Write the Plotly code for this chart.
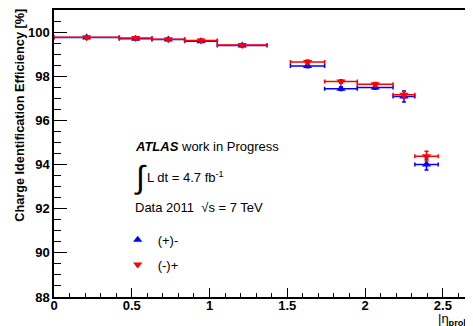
import plotly.graph_objects as go

# |eta| bin edges
eta_lo = [0.0, 0.42, 0.63, 0.84, 1.05, 1.52, 1.74, 1.95, 2.18, 2.32]
eta_hi = [0.42, 0.63, 0.84, 1.05, 1.37, 1.74, 1.95, 2.18, 2.32, 2.47]

# charge identification efficiency [%]
eff_pm = [99.75, 99.70, 99.66, 99.59, 99.39, 98.46, 97.43, 97.49, 97.08, 94.00]
err_pm = [0.04, 0.04, 0.04, 0.05, 0.05, 0.08, 0.08, 0.08, 0.25, 0.25]
eff_mp = [99.77, 99.73, 99.68, 99.62, 99.41, 98.65, 97.76, 97.64, 97.16, 94.38]
err_mp = [0.04, 0.04, 0.04, 0.05, 0.05, 0.08, 0.08, 0.08, 0.15, 0.22]

eta_c = [(a + b) / 2 for a, b in zip(eta_lo, eta_hi)]
eta_w = [(b - a) / 2 for a, b in zip(eta_lo, eta_hi)]

FONT = "Liberation Sans, Arial, Helvetica, sans-serif"

fig = go.Figure()


def add_series(name, eff, err, color, symbol, group):
    fig.add_trace(go.Scatter(
        x=eta_c, y=eff, mode='markers', name=name, legendgroup=group,
        marker=dict(color=color, symbol=symbol, size=8),
        error_x=dict(type='data', array=eta_w, color=color, thickness=1.5, width=2),
        error_y=dict(type='data', array=err, color=color, thickness=1.5, width=2),
    ))


add_series('(+)-', eff_pm, err_pm, 'rgb(0,0,255)', 'triangle-up', 'a')
add_series('(-)+', eff_mp, err_mp, 'rgb(255,0,0)', 'triangle-down', 'b')

# page body has an 8px margin, so the figure is shrunk by that much
fig.update_layout(
    width=465, height=318,
    margin=dict(l=46, r=0, t=2, b=29),
    plot_bgcolor='white', paper_bgcolor='white',
    font=dict(family=FONT, color='black', size=13),
    showlegend=True,
    legend=dict(x=0.152, y=0.252, xanchor='left', yanchor='top',
                bgcolor='rgba(0,0,0,0)', tracegroupgap=5, itemwidth=30,
                font=dict(size=13, family=FONT)),
    xaxis=dict(range=[0, 2.694], showgrid=False, zeroline=False,
               showline=True, linecolor='black', linewidth=1.5, mirror=True,
               ticks='inside', ticklen=9, tickwidth=1.2, tickcolor='black',
               dtick=0.5, tick0=0, ticklabelstandoff=-4,
               minor=dict(ticks='inside', ticklen=4.5, dtick=0.1, tickcolor='black', tickwidth=1),
               tickfont=dict(size=13, family=FONT, weight='bold')),
    yaxis=dict(range=[88, 101], showgrid=False, zeroline=False,
               showline=True, linecolor='black', linewidth=1.5,
               ticks='inside', ticklen=13, tickwidth=1.2, tickcolor='black',
               dtick=2, tick0=88,
               minor=dict(ticks='inside', ticklen=7, dtick=0.5, tickcolor='black', tickwidth=1),
               tickfont=dict(size=13, family=FONT, weight='bold')),
    annotations=[
        dict(xref='paper', yref='paper', x=-0.081, y=1.01, xanchor='center', yanchor='top',
             textangle=-90, showarrow=False,
             text='<b>Charge Identification Efficiency [%]</b>',
             font=dict(size=12.7, family=FONT)),
        dict(xref='paper', yref='paper', x=0.912, y=-0.043, xanchor='left', yanchor='top',
             showarrow=False, text='|η<sub><b>probe</b></sub>|',
             font=dict(size=13, family=FONT)),
        dict(xref='paper', yref='paper', x=0.189, y=0.523, xanchor='left', yanchor='middle',
             showarrow=False, text='<b><i>ATLAS</i></b> work in Progress',
             font=dict(size=13, family=FONT)),
        dict(xref='paper', yref='paper', x=0.186, y=0.418, xanchor='left', yanchor='middle',
             showarrow=False, text='∫', font=dict(size=32, family=FONT)),
        dict(xref='paper', yref='paper', x=0.218, y=0.418, xanchor='left', yanchor='middle',
             showarrow=False, text='L dt = 4.7 fb<sup>-1</sup>',
             font=dict(size=13, family=FONT)),
        dict(xref='paper', yref='paper', x=0.189, y=0.313, xanchor='left', yanchor='middle',
             showarrow=False, text='Data 2011  √s = 7 TeV',
             font=dict(size=13, family=FONT)),
    ],
)

fig.write_html("out.html")
